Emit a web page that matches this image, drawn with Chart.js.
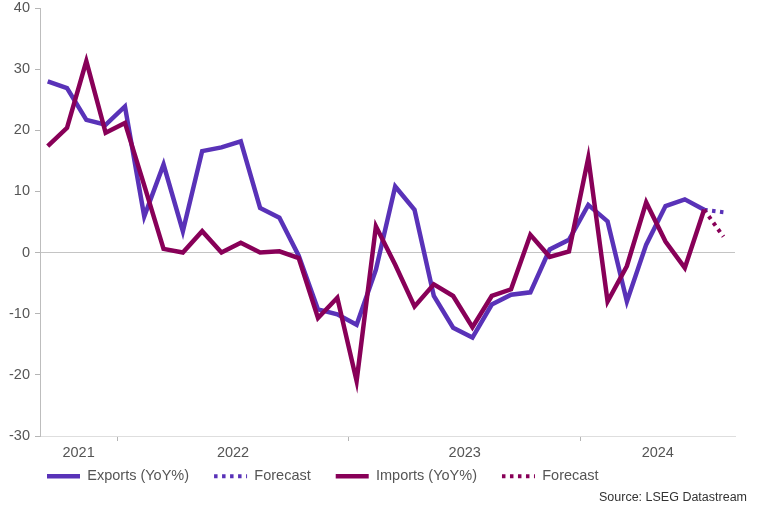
<!DOCTYPE html>
<html>
<head>
<meta charset="utf-8">
<script src="https://cdn.jsdelivr.net/npm/chart.js@4.4.1/dist/chart.umd.min.js"></script>
<style>
  html, body { margin: 0; padding: 0; background: #fff; }
  #wrap { position: relative; width: 757px; height: 506px; }
  #source {
    position: absolute; right: 10px; top: 490px;
    font: 12.5px "Liberation Sans", Arial, sans-serif; color: #333; line-height: 15px;
  }
</style>
</head>
<body>
<div id="wrap">
  <canvas id="chart" width="757" height="506"></canvas>
  <div id="source">Source: LSEG Datastream</div>
</div>
<script>
// Datos (YoY %), mensual Sep 2021 - Ago 2024
const months = [
  'Sep 2021', 'Oct 2021', 'Nov 2021', 'Dec 2021',
  'Jan 2022', 'Feb 2022', 'Mar 2022', 'Apr 2022', 'May 2022', 'Jun 2022',
  'Jul 2022', 'Aug 2022', 'Sep 2022', 'Oct 2022', 'Nov 2022', 'Dec 2022',
  'Jan 2023', 'Feb 2023', 'Mar 2023', 'Apr 2023', 'May 2023', 'Jun 2023',
  'Jul 2023', 'Aug 2023', 'Sep 2023', 'Oct 2023', 'Nov 2023', 'Dec 2023',
  'Jan 2024', 'Feb 2024', 'Mar 2024', 'Apr 2024', 'May 2024', 'Jun 2024',
  'Jul 2024', 'Aug 2024'
];
const exportsYoY = [28.0, 26.9, 21.7, 20.9, 23.9, 5.9, 14.4, 3.5, 16.6, 17.2, 18.2, 7.3,
  5.7, -0.5, -9.3, -10.1, -11.8, -2.8, 10.8, 7.0, -7.1, -12.3, -13.9, -8.5,
  -6.9, -6.5, 0.5, 2.1, 7.8, 5.1, -8.0, 1.3, 7.6, 8.7, 7.0, null];
const exportsForecast = [null, null, null, null, null, null, null, null, null, null, null, null,
  null, null, null, null, null, null, null, null, null, null, null, null,
  null, null, null, null, null, null, null, null, null, null, 7.0, 6.6];
const importsYoY = [17.4, 20.4, 31.3, 19.6, 21.2, 11.0, 0.6, 0.0, 3.5, 0.0, 1.6, 0.0,
  0.2, -0.9, -10.7, -7.4, -21.0, 4.3, -2.0, -8.8, -5.2, -7.1, -12.2, -7.1,
  -6.0, 2.9, -0.7, 0.2, 15.5, -8.0, -2.2, 8.2, 1.8, -2.5, 7.0, null];
const importsForecast = [null, null, null, null, null, null, null, null, null, null, null, null,
  null, null, null, null, null, null, null, null, null, null, null, null,
  null, null, null, null, null, null, null, null, null, null, 7.0, 2.6];
const yTicks = [-30, -20, -10, 0, 10, 20, 30, 40];

const colorExports = '#5932b8';
const colorImports = '#880058';
const textColor = '#555';

// cada mes ocupa [i - 0.4, i + 0.6] en el eje x
const startShift = 0.4;
const xMin = -startShift;
const xMax = months.length - startShift;

// centros de cada año (etiquetas) y separaciones entre años (marcas)
const yearLabelAt = {};
const yearBounds = [];
const years = [...new Set(months.map(m => m.slice(-4)))];
years.forEach((y, k) => {
  const first = months.findIndex(m => m.endsWith(y));
  const last = months.length - 1 - [...months].reverse().findIndex(m => m.endsWith(y));
  const a = first - startShift;
  const b = last + 1 - startShift;
  yearLabelAt[((a + b) / 2).toFixed(2)] = y;
  if (k > 0) yearBounds.push(a);
});
const isBound = v => yearBounds.some(b => Math.abs(b - v) < 1e-6);

const pts = arr => arr.map((v, i) => ({ x: i, y: v }));

// leyenda abajo a la izquierda, alineada con las lineas
const legendPlace = {
  id: 'legendPlace',
  afterLayout(chart) {
    chart.legend.left = 22;
    chart.legend.top = 444;
  }
};

Chart.defaults.font.family = '"Liberation Sans", Arial, sans-serif';
Chart.defaults.font.size = 14.5;
Chart.defaults.color = textColor;

const ctx = document.getElementById('chart').getContext('2d');
new Chart(ctx, {
  type: 'line',
  data: {
    datasets: [
      {
        label: 'Exports (YoY%)',
        data: pts(exportsYoY),
        borderColor: colorExports,
        backgroundColor: colorExports,
        borderWidth: 4.5,
        pointRadius: 0,
        order: 2
      },
      {
        label: 'Forecast',
        data: pts(exportsForecast),
        borderColor: colorExports,
        backgroundColor: colorExports,
        borderWidth: 4,
        borderDash: [3.5, 4.5],
        pointRadius: 0,
        order: 2
      },
      {
        label: 'Imports (YoY%)',
        data: pts(importsYoY),
        borderColor: colorImports,
        backgroundColor: colorImports,
        borderWidth: 4.5,
        pointRadius: 0,
        order: 1
      },
      {
        label: 'Forecast',
        data: pts(importsForecast),
        borderColor: colorImports,
        backgroundColor: colorImports,
        borderWidth: 4,
        borderDash: [3.5, 4.5],
        pointRadius: 0,
        order: 1
      }
    ]
  },
  options: {
    responsive: false,
    animation: false,
    layout: { padding: { left: 0, right: 22, top: 0, bottom: 0 } },
    plugins: {
      tooltip: { enabled: false },
      legend: {
        position: 'bottom',
        align: 'start',
        maxHeight: 45,
        labels: {
          usePointStyle: true,
          pointStyle: 'line',
          pointStyleWidth: 33,
          padding: 25,
          color: textColor,
          font: { size: 14.5 },
          sort: (a, b) => a.datasetIndex - b.datasetIndex,
          generateLabels: chart => Chart.defaults.plugins.legend.labels.generateLabels(chart).map(item => {
            const ds = chart.data.datasets[item.datasetIndex];
            item.lineDash = ds.borderDash || [];
            item.lineWidth = ds.borderWidth;
            item.strokeStyle = ds.borderColor;
            return item;
          })
        }
      }
    },
    scales: {
      x: {
        type: 'linear',
        min: xMin,
        max: xMax,
        afterBuildTicks: scale => {
          const vals = Object.keys(yearLabelAt).map(Number).concat(yearBounds);
          scale.ticks = vals.sort((a, b) => a - b).map(v => ({ value: v }));
        },
        afterFit: scale => { scale.height = 25; },
        ticks: {
          autoSkip: false,
          maxRotation: 0,
          padding: 3,
          color: textColor,
          callback: v => yearLabelAt[Number(v).toFixed(2)] || ''
        },
        grid: {
          drawOnChartArea: false,
          tickLength: 5,
          tickColor: c => (c.tick && isBound(c.tick.value)) ? '#b5b5b5' : 'rgba(0,0,0,0)'
        },
        border: { color: '#dedede', width: 1 }
      },
      y: {
        min: -30,
        max: 40,
        afterBuildTicks: scale => { scale.ticks = yTicks.map(v => ({ value: v })); },
        afterFit: scale => { scale.width = 40; scale.paddingTop = 8; },
        ticks: { padding: 5, color: textColor },
        grid: {
          tickLength: 5,
          tickColor: '#b5b5b5',
          color: c => (c.tick && c.tick.value === 0) ? '#c4c4c4' : 'rgba(0,0,0,0)'
        },
        border: { color: '#bdbdbd', width: 1 }
      }
    }
  },
  plugins: [legendPlace]
});
</script>
</body>
</html>
